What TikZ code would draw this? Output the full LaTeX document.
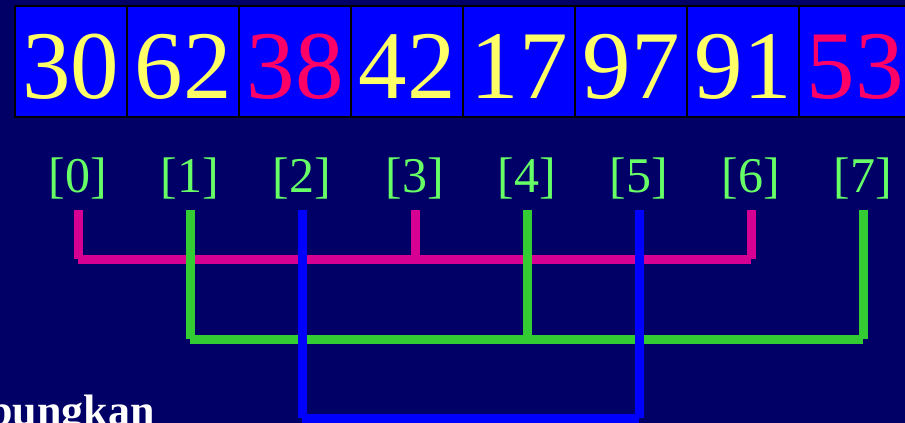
\documentclass[tikz,border=0pt]{standalone}
\usepackage{fontspec}
\setmainfont{Liberation Serif}
\usetikzlibrary{calc}
\definecolor{navy}{RGB}{0,0,102}
\definecolor{cellblue}{RGB}{0,0,255}
\definecolor{numyellow}{RGB}{255,255,102}
\definecolor{numred}{RGB}{255,0,102}
\definecolor{idxgreen}{RGB}{102,255,102}
\definecolor{rose}{RGB}{214,0,147}
\definecolor{grass}{RGB}{51,204,51}

\begin{document}
\begin{tikzpicture}[x=1pt,y=-1pt,
    cellbox/.style={draw=black,line width=2pt,fill=cellblue,minimum width=112pt,minimum height=111pt,
      inner sep=0pt,text height=80pt,text depth=7pt,font=\fontsize{97}{97}\selectfont,text=numyellow},
    idx/.style={anchor=base,inner sep=0pt,inner ysep=9pt,text depth=9pt,
      font=\fontsize{50}{50}\selectfont,text=idxgreen},
    link/.style={line width=9pt}]
        \fill[navy] (0,0) rectangle (905,423);
        \useasboundingbox (0,0) rectangle (905,423);
        % the array
        \node[cellbox] (c0) at (71,61.5) {30};
        \node[cellbox] (c1) at (183,61.5) {62};
        \node[cellbox,text=numred] (c2) at (295,61.5) {38};
        \node[cellbox] (c3) at (407,61.5) {42};
        \node[cellbox] (c4) at (519,61.5) {17};
        \node[cellbox] (c5) at (631,61.5) {97};
        \node[cellbox] (c6) at (743,61.5) {91};
        \node[cellbox,text=numred] (c7) at (855,61.5) {53};
        % indices
        \node[idx] (i0) at (78,192) {[0]};
        \node[idx] (i1) at (190,192) {[1]};
        \node[idx] (i2) at (302,192) {[2]};
        \node[idx] (i3) at (415,192) {[3]};
        \node[idx] (i4) at (527,192) {[4]};
        \node[idx] (i5) at (639,192) {[5]};
        \node[idx] (i6) at (751,192) {[6]};
        \node[idx] (i7) at (863,192) {[7]};
        \coordinate (mrail) at (0,259);
        \coordinate (grail) at (0,339);
        \coordinate (brail) at (0,418);
        % groups
        \draw[link,rose] (i0.south) -- (i0.south |- mrail);
        \draw[link,rose] (i3.south) -- (i3.south |- mrail);
        \draw[link,rose] (i6.south) -- (i6.south |- mrail);
        \draw[link,rose] (i0.south |- mrail) -- (i6.south |- mrail);
        \draw[link,grass] (i1.south) -- (i1.south |- grail);
        \draw[link,grass] (i4.south) -- (i4.south |- grail);
        \draw[link,grass] (i7.south) -- (i7.south |- grail);
        \draw[link,grass] (i1.south |- grail) -- (i7.south |- grail);
        \draw[link,cellblue] (i2.south) -- (i2.south |- brail);
        \draw[link,cellblue] (i5.south) -- (i5.south |- brail);
        \draw[link,cellblue] (i2.south |- brail) -- (i5.south |- brail);
        \node[anchor=base east,inner sep=0pt,font=\bfseries\fontsize{44}{44}\selectfont,text=white] (txt) at (155,425) {Gabungkan};
      \end{tikzpicture}
\end{document}
